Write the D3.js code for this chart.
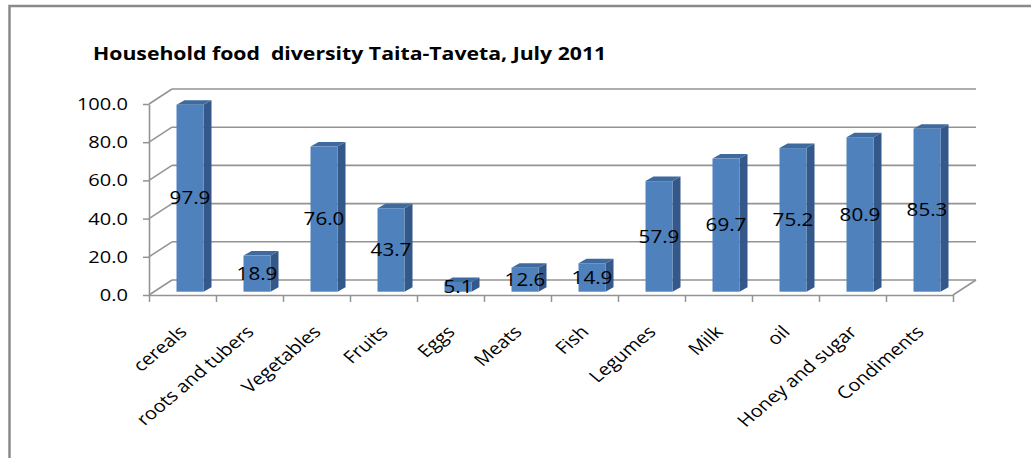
<!DOCTYPE html>
<html>
<head>
<meta charset="utf-8">
<script src="https://cdn.jsdelivr.net/npm/d3@7"></script>
<style>
  html, body { margin: 0; padding: 0; background: #fff; }
  svg { display: block; }
  text { font-family: "Open Sans", "Noto Sans", sans-serif; fill: #000; }
</style>
</head>
<body>
<svg id="chart" width="1031" height="458"></svg>
<script>
// ---- data ----
const title = "Household food  diversity Taita-Taveta, July 2011";
const categories = ["cereals", "roots and tubers", "Vegetables", "Fruits", "Eggs", "Meats",
  "Fish", "Legumes", "Milk", "oil", "Honey and sugar", "Condiments"];
const values = [97.9, 18.9, 76.0, 43.7, 5.1, 12.6, 14.9, 57.9, 69.7, 75.2, 80.9, 85.3];
const yTicks = [0, 20, 40, 60, 80, 100];

// ---- layout ----
const W = 1031, H = 458;
const SX = 1.18;              // horizontal stretch of the original picture
const plotL = 149, plotR = 953, plotT = 104, plotB = 295;
const DX = 23, DY = -15;      // depth of the 3D box
const BAR_OFF = 27.5, BAR_W = 27, BDX = 8, BDY = -4.5, BAR_SHIFT = -3.3;
const gridColor = "#939393";

const svg = d3.select("#chart");
svg.append("rect").attr("width", W).attr("height", H).attr("fill", "#fff");

// outer border (only top and left visible)
svg.append("path")
  .attr("d", `M9.5,${H + 2} L9.5,6 L${W + 2},6`)
  .attr("fill", "none").attr("stroke", "#8a8a8a").attr("stroke-width", 2.5);

const x = d3.scaleBand().domain(categories).range([plotL, plotR]).padding(0);
const y = d3.scaleLinear().domain([0, 100]).range([plotB, plotT]);
const xb = d3.scaleLinear().domain([0, categories.length]).range([plotL, plotR]);

// back wall gridlines
svg.append("g").selectAll("line").data(yTicks).join("line")
  .attr("x1", plotL + DX).attr("x2", plotR + DX)
  .attr("y1", d => y(d) + DY).attr("y2", d => y(d) + DY)
  .attr("stroke", gridColor).attr("stroke-width", 1.6);

// side wall gridlines
svg.append("g").selectAll("line").data(yTicks).join("line")
  .attr("x1", plotL).attr("x2", plotL + DX)
  .attr("y1", d => y(d)).attr("y2", d => y(d) + DY)
  .attr("stroke", gridColor).attr("stroke-width", 1.5);

// floor right edge
svg.append("line")
  .attr("x1", plotR).attr("y1", y(0)).attr("x2", plotR + DX).attr("y2", y(0) + DY)
  .attr("stroke", gridColor).attr("stroke-width", 1.5);

// y axis
const yAxis = svg.append("g").attr("transform", `translate(${plotL},0)`)
  .call(d3.axisLeft(y).tickValues(yTicks).tickFormat(d3.format(".1f")).tickSize(6).tickSizeOuter(0));
yAxis.select(".domain").attr("stroke", gridColor).attr("stroke-width", 1.6);
yAxis.selectAll(".tick line").attr("stroke", gridColor).attr("stroke-width", 1.5);
yAxis.selectAll("text")
  .attr("x", 0)
  .attr("transform", `translate(-21,0) scale(${SX},1)`)
  .style("font-size", "17px").style("font-family", "'Open Sans', sans-serif").attr("fill", "#000");

// x axis (ticks at category boundaries)
const xAxis = svg.append("g").attr("transform", `translate(0,${plotB})`)
  .call(d3.axisBottom(xb).tickValues(d3.range(categories.length + 1)).tickFormat("").tickSize(7).tickSizeOuter(0));
xAxis.select(".domain").attr("stroke", gridColor).attr("stroke-width", 1.6);
xAxis.selectAll(".tick line").attr("stroke", gridColor).attr("stroke-width", 1.5);

// bars
const bars = svg.append("g").selectAll("g").data(values).join("g");
const bx = (d, i) => x(categories[i]) + BAR_OFF;
const by = d => y(d) + BAR_SHIFT;
const b0 = y(0) + BAR_SHIFT;
// side
bars.append("path")
  .attr("d", (d, i) => {
    const x1 = bx(d, i) + BAR_W;
    return `M${x1},${by(d)} L${x1 + BDX},${by(d) + BDY} L${x1 + BDX},${b0 + BDY} L${x1},${b0} Z`;
  })
  .attr("fill", "#35588a");
// top
bars.append("path")
  .attr("d", (d, i) => {
    const x0 = bx(d, i);
    return `M${x0},${by(d)} L${x0 + BDX},${by(d) + BDY} L${x0 + BAR_W + BDX},${by(d) + BDY} L${x0 + BAR_W},${by(d)} Z`;
  })
  .attr("fill", "#3f6a9e");
// front
bars.append("rect")
  .attr("x", (d, i) => bx(d, i))
  .attr("y", d => by(d))
  .attr("width", BAR_W)
  .attr("height", d => b0 - by(d))
  .attr("fill", "#4f81bd");

// value labels
svg.append("g").selectAll("text").data(values).join("text")
  .attr("transform", (d, i) => `translate(${bx(d, i) + BAR_W / 2},${(by(d) + b0) / 2}) scale(${SX},1)`)
  .attr("text-anchor", "middle")
  .attr("dy", "0.35em")
  .style("font-size", "17.5px")
  .text(d => d3.format(".1f")(d));

// category labels
svg.append("g").selectAll("text").data(categories).join("text")
  .attr("transform", d => `translate(${x(d) + x.bandwidth() / 2 + 5.5},333) scale(${SX},1) rotate(-45)`)
  .attr("text-anchor", "end")
  .style("font-size", "17px")
  .text(d => d);

// title
svg.append("text")
  .attr("transform", `translate(93,59.5) scale(${SX},1)`)
  .style("font-size", "18px")
  .style("font-weight", "bold")
  .style("white-space", "pre")
  .text(title);
</script>
</body>
</html>
